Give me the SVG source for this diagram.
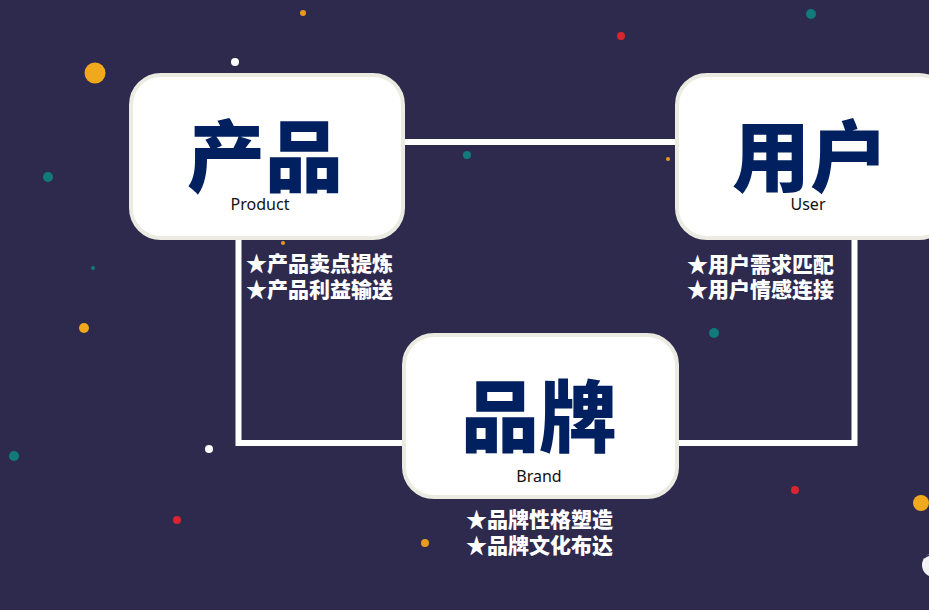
<svg xmlns="http://www.w3.org/2000/svg" width="929" height="610" viewBox="0 0 929 610">
<style>
.box{fill:#ffffff;stroke:#ecebe1;stroke-width:4}
.big{font-family:"Noto Sans CJK SC","Noto Sans",sans-serif;font-weight:900;font-size:78px;fill:#002060;text-anchor:middle}
.en{font-family:"Noto Sans","Open Sans",sans-serif;font-size:16px;fill:#111111;text-anchor:middle}
.bul{font-family:"Noto Sans CJK SC","Noto Sans",sans-serif;font-weight:900;font-size:21px;fill:#ffffff}
.ln{stroke:#ffffff;stroke-width:6;fill:none}
</style>
<rect x="0" y="0" width="929" height="610" fill="#2d2a4e"/>
<g id="dots">
<circle cx="95" cy="73" r="10.5" fill="#f0a81c"/>
<circle cx="48" cy="177" r="5" fill="#127a7a"/>
<circle cx="303" cy="13" r="3" fill="#e89a1a"/>
<circle cx="235" cy="62" r="4" fill="#ffffff"/>
<circle cx="621" cy="36" r="4" fill="#d8262e"/>
<circle cx="811" cy="14" r="5" fill="#127a7a"/>
<circle cx="467" cy="155" r="4" fill="#127a7a"/>
<circle cx="668" cy="159" r="2" fill="#e89a1a"/>
<circle cx="93" cy="268" r="2" fill="#127a7a"/>
<circle cx="84" cy="328" r="5" fill="#f0a81c"/>
<circle cx="714" cy="333" r="5" fill="#127a7a"/>
<circle cx="283" cy="243" r="2" fill="#e89a1a"/>
<circle cx="209" cy="449" r="4" fill="#ffffff"/>
<circle cx="14" cy="456" r="5" fill="#127a7a"/>
<circle cx="795" cy="490" r="4" fill="#d8262e"/>
<circle cx="921" cy="503" r="8" fill="#f0a81c"/>
<circle cx="177" cy="520" r="4" fill="#d8262e"/>
<circle cx="425" cy="543" r="4" fill="#e89a1a"/>
<circle cx="934" cy="565" r="12" fill="#f2f2f5"/>
<path d="M924 558 Q930 553 938 555" stroke="#2d2a4e" stroke-width="1.5" fill="none"/>
</g>
<g id="connectors">
<line class="ln" x1="404" y1="142" x2="676" y2="142"/>
<polyline class="ln" points="238.5,240 238.5,443 403,443"/>
<polyline class="ln" points="854.5,240 854.5,443 678,443"/>
</g>
<g id="product">
<rect class="box" x="131" y="75" width="272" height="163" rx="30"/>
<text class="big" x="265" y="186">产品</text>
<text class="en" x="260" y="210">Product</text>
<text class="bul" x="246" y="271">★产品卖点提炼</text>
<text class="bul" x="246" y="297">★产品利益输送</text>
</g>
<g id="user">
<rect class="box" x="677" y="75" width="272" height="163" rx="30"/>
<text class="big" x="810" y="186">用户</text>
<text class="en" x="808" y="210">User</text>
<text class="bul" x="687" y="272">★用户需求匹配</text>
<text class="bul" x="687" y="297">★用户情感连接</text>
</g>
<g id="brand">
<rect class="box" x="404" y="335" width="273" height="162" rx="30"/>
<text class="big" x="539" y="446">品牌</text>
<text class="en" x="539" y="482">Brand</text>
<text class="bul" x="466" y="527">★品牌性格塑造</text>
<text class="bul" x="466" y="553">★品牌文化布达</text>
</g>
</svg>
